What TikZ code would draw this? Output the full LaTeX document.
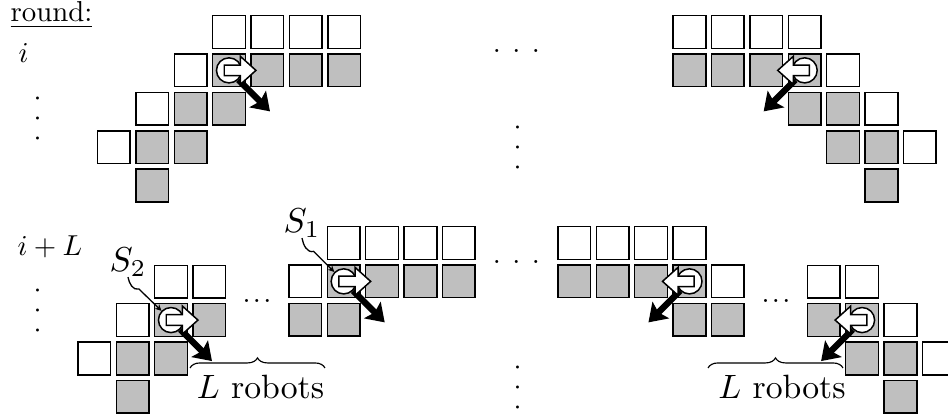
\documentclass[tikz,border=0pt]{standalone}
\usepackage{tikz}
\usetikzlibrary{positioning, calc, arrows.meta, shapes.arrows, decorations.pathreplacing}

\newcommand{\spread}[1]{.\kern#1.\kern#1.}

\tikzset{
    blank/.style={draw, line width=0.52pt, minimum size=11.35pt, inner sep=0pt, fill=white},
    full/.style={blank, fill=black!25},
    robot/.style={circle, draw, line width=0.52pt, minimum size=8.7pt, inner sep=0pt, fill=white},
    turn/.style={single arrow, draw, line width=0.52pt, fill=white, inner sep=1.6pt,
        minimum height=11pt, minimum width=9.3pt, single arrow head extend=3pt,
        single arrow tip angle=84, anchor=tail},
    move/.style={line width=2.2pt, -{Stealth[length=6pt,width=8pt,inset=1.1pt]}},
    lead/.style={line width=0.45pt, -{Stealth[length=2.2pt,width=2.2pt]}},
    curly/.style={line width=0.4pt, decorate, decoration={brace, amplitude=3.5pt}},
    biglab/.style={scale=1.17, inner sep=0pt},
    sublab/.style={scale=1.2, inner sep=0pt},
    gap/.style={inner sep=0pt}
}

\begin{document}
\begin{tikzpicture}[x=0.347pt,y=-0.347pt,node distance=13.32pt,on grid]
        \useasboundingbox (0,0) rectangle (948,418);

        % round i, left
        \node[blank] (a1) at (229,32) {};
        \node[blank, right of=a1] (a2) {};
        \node[blank, right of=a2] (a3) {};
        \node[blank, right of=a3] (a4) {};
        \node[full, below of=a1] (a5) {};
        \node[full, right of=a5] (a6) {};
        \node[full, right of=a6] (a7) {};
        \node[full, right of=a7] (a8) {};
        \node[blank, left of=a5] (a9) {};
        \node[full, below of=a5] (a10) {};
        \node[full, left of=a10] (a11) {};
        \node[blank, left of=a11] (a12) {};
        \node[full, below of=a11] (a13) {};
        \node[full, left of=a13] (a14) {};
        \node[blank, left of=a14] (a15) {};
        \node[full, below of=a14] (a16) {};

        % round i, right
        \node[blank] (b1) at (689.5,32) {};
        \node[blank, right of=b1] (b2) {};
        \node[blank, right of=b2] (b3) {};
        \node[blank, right of=b3] (b4) {};
        \node[full, below of=b4] (b5) {};
        \node[full, left of=b5] (b6) {};
        \node[full, left of=b6] (b7) {};
        \node[full, left of=b7] (b8) {};
        \node[blank, right of=b5] (b9) {};
        \node[full, below of=b5] (b10) {};
        \node[full, right of=b10] (b11) {};
        \node[blank, right of=b11] (b12) {};
        \node[full, below of=b11] (b13) {};
        \node[full, right of=b13] (b14) {};
        \node[blank, right of=b14] (b15) {};
        \node[full, below of=b14] (b16) {};

        % round i+L, far left
        \node[blank] (c1) at (171,281.7) {};
        \node[blank, right of=c1] (c2) {};
        \node[full, below of=c1] (c3) {};
        \node[full, right of=c3] (c4) {};
        \node[blank, left of=c3] (c5) {};
        \node[full, below of=c3] (c6) {};
        \node[full, left of=c6] (c7) {};
        \node[blank, left of=c7] (c8) {};
        \node[full, below of=c7] (c9) {};

        % round i+L, inner left
        \node[blank] (d1) at (343.7,243) {};
        \node[blank, right of=d1] (d2) {};
        \node[blank, right of=d2] (d3) {};
        \node[blank, right of=d3] (d4) {};
        \node[full, below of=d1] (d5) {};
        \node[full, right of=d5] (d6) {};
        \node[full, right of=d6] (d7) {};
        \node[full, right of=d7] (d8) {};
        \node[blank, left of=d5] (d9) {};
        \node[full, below of=d5] (d10) {};
        \node[full, left of=d10] (d11) {};

        % round i+L, inner right
        \node[blank] (e1) at (574.3,243) {};
        \node[blank, right of=e1] (e2) {};
        \node[blank, right of=e2] (e3) {};
        \node[blank, right of=e3] (e4) {};
        \node[full, below of=e4] (e5) {};
        \node[full, left of=e5] (e6) {};
        \node[full, left of=e6] (e7) {};
        \node[full, left of=e7] (e8) {};
        \node[blank, right of=e5] (e9) {};
        \node[full, below of=e5] (e10) {};
        \node[full, right of=e10] (e11) {};

        % round i+L, far right
        \node[blank] (f1) at (823.7,281.7) {};
        \node[blank, right of=f1] (f2) {};
        \node[full, below of=f2] (f3) {};
        \node[full, left of=f3] (f4) {};
        \node[blank, right of=f3] (f5) {};
        \node[full, below of=f3] (f6) {};
        \node[full, right of=f6] (f7) {};
        \node[blank, right of=f7] (f8) {};
        \node[full, below of=f7] (f9) {};

        % robots
        \node[robot] (r1) at (a5) {};
        \coordinate (t1) at ($(r1)+(41,41)$);
        \draw[move] (r1) -- (t1);
        \node[turn] (w1) at ($(r1)+(-5.5,0)$) {};

        \node[robot] (r2) at (b5) {};
        \coordinate (t2) at ($(r2)+(-41,41)$);
        \draw[move] (r2) -- (t2);
        \node[turn, shape border rotate=180] (w2) at ($(r2)+(5.5,0)$) {};

        \node[robot] (r3) at (c3) {};
        \coordinate (t3) at ($(r3)+(41,41)$);
        \draw[move] (r3) -- (t3);
        \node[turn] (w3) at ($(r3)+(-5.5,0)$) {};

        \node[robot] (r4) at (d5) {};
        \coordinate (t4) at ($(r4)+(41,41)$);
        \draw[move] (r4) -- (t4);
        \node[turn] (w4) at ($(r4)+(-5.5,0)$) {};

        \node[robot] (r5) at (e5) {};
        \coordinate (t5) at ($(r5)+(-41,41)$);
        \draw[move] (r5) -- (t5);
        \node[turn, shape border rotate=180] (w5) at ($(r5)+(5.5,0)$) {};

        \node[robot] (r6) at (f3) {};
        \coordinate (t6) at ($(r6)+(-41,41)$);
        \draw[move] (r6) -- (t6);
        \node[turn, shape border rotate=180] (w6) at ($(r6)+(5.5,0)$) {};

        % labels
        \node[anchor=west, inner sep=0pt] (lround) at (10,15) {\underline{round:}};
        \node[anchor=west, inner sep=0pt] (li) at (18,53) {$i$};
        \node[anchor=west, inner sep=0pt] (liL) at (17,247) {$i+L$};
        \node[sublab] (s1) at (302,223) {$S_1$};
        \node[sublab] (s2) at (128,262) {$S_2$};
        \coordinate (k1) at ($(r4)+(-30,-30)$);
        \coordinate (k2) at ($(r3)+(-32,-31)$);
        \draw[lead] (s1.south) to[out=-80,in=195] (k1) -- (r4);
        \draw[lead] (s2.south) to[out=-80,in=195] (k2) -- (r3);

        % braces
        \coordinate (u1) at (190,368);
        \coordinate (v1) at (325,368);
        \coordinate (u2) at (708,368);
        \coordinate (v2) at (843,368);
        \draw[curly] (u1) -- (v1);
        \draw[curly] (u2) -- (v2);
        \node[biglab] (n1) at (260.5,386.7) {$L$ robots};
        \node[biglab] (n2) at (782,386.7) {$L$ robots};

        % dots
        \node[gap, rotate=90] (g1) at (37.5,118.5) {\spread{3.99pt}};
        \node[gap, rotate=90] (g2) at (37.5,310.5) {\spread{3.99pt}};
        \node[gap] (g3) at (516.3,51) {\spread{3.99pt}};
        \node[gap, rotate=90] (g4) at (517.5,147.5) {\spread{3.99pt}};
        \node[gap] (g5) at (516.3,262) {\spread{3.99pt}};
        \node[gap, rotate=90] (g6) at (518,387.5) {\spread{3.99pt}};
        \node[gap] (g7) at (257,301) {\spread{0.8pt}};
        \node[gap] (g8) at (776,301) {\spread{0.8pt}};
\end{tikzpicture}
\end{document}
